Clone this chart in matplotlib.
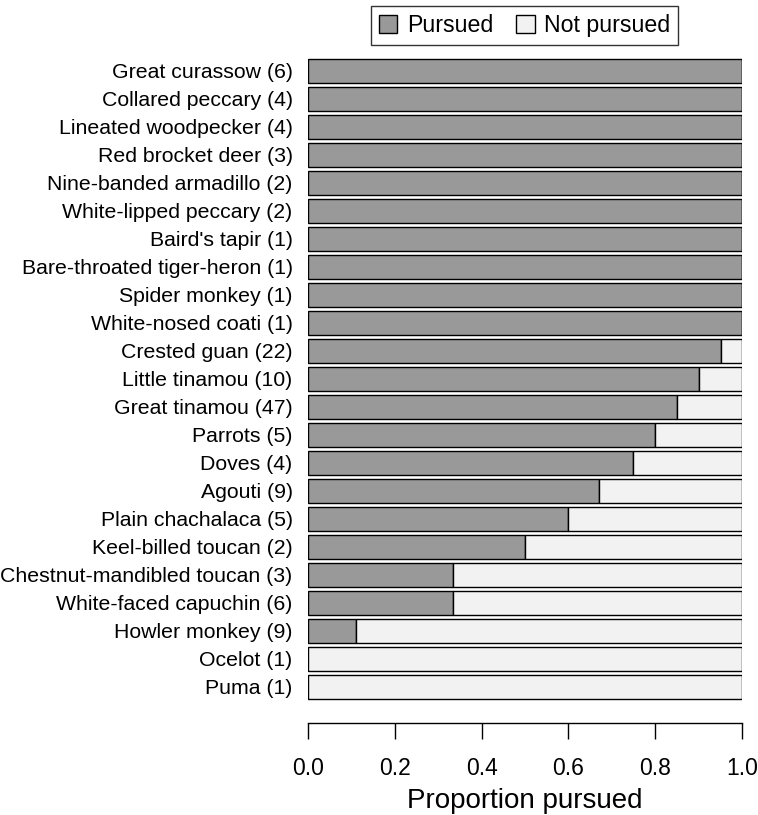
import matplotlib.pyplot as plt
import numpy as np
from matplotlib.patches import Patch

plt.rcParams['font.family'] = ['Liberation Sans', 'DejaVu Sans']

species = ["Great curassow (6)", "Collared peccary (4)", "Lineated woodpecker (4)",
           "Red brocket deer (3)", "Nine-banded armadillo (2)", "White-lipped peccary (2)",
           "Baird's tapir (1)", "Bare-throated tiger-heron (1)", "Spider monkey (1)",
           "White-nosed coati (1)", "Crested guan (22)", "Little tinamou (10)",
           "Great tinamou (47)", "Parrots (5)", "Doves (4)", "Agouti (9)",
           "Plain chachalaca (5)", "Keel-billed toucan (2)", "Chestnut-mandibled toucan (3)",
           "White-faced capuchin (6)", "Howler monkey (9)", "Ocelot (1)", "Puma (1)"]
pursued = [1, 1, 1, 1, 1, 1, 1, 1, 1, 1, 0.952, 0.9, 0.85, 0.8, 0.75, 0.67,
           0.6, 0.5, 0.333, 0.333, 0.111, 0, 0]
not_pursued = [1 - p for p in pursued]

grey = '#999999'
light = '#f2f2f2'

fig = plt.figure(figsize=(7.58, 8.15), dpi=100)
ax = fig.add_axes([308 / 758, (815 - 723) / 815, 434 / 758, 673 / 815])

y = np.arange(len(species))
ax.barh(y, pursued, height=0.85, color=grey, edgecolor='black', linewidth=1)
ax.barh(y, not_pursued, left=pursued, height=0.85, color=light, edgecolor='black', linewidth=1)

ax.set_xlim(0, 1)
ax.set_ylim(23.29, -0.75)
ax.set_yticks(y)
ax.set_yticklabels(species, fontsize=15.3)
ax.tick_params(axis='y', length=0, pad=11)
ax.set_xticks([0, 0.2, 0.4, 0.6, 0.8, 1.0])
ax.set_xticklabels(['0.0', '0.2', '0.4', '0.6', '0.8', '1.0'], fontsize=16.5)
ax.tick_params(axis='x', length=11.5, width=1, pad=13)
ax.set_xlabel('Proportion pursued', fontsize=20, labelpad=6)
for s in ['top', 'right', 'left']:
    ax.spines[s].set_visible(False)
ax.spines['bottom'].set_linewidth(1)

handles = [Patch(facecolor=grey, edgecolor='black', label='Pursued'),
           Patch(facecolor=light, edgecolor='black', label='Not pursued')]
leg = fig.legend(handles=handles, loc='center', ncol=2, fontsize=16.7,
                 bbox_to_anchor=(524.5 / 758, 1 - 25.5 / 815), frameon=True,
                 fancybox=False, edgecolor='black', handlelength=0.8, handleheight=0.8,
                 handletextpad=0.4, columnspacing=1.0, borderpad=0.35)
leg.get_frame().set_linewidth(1)

fig.savefig('out.png', dpi=100)
